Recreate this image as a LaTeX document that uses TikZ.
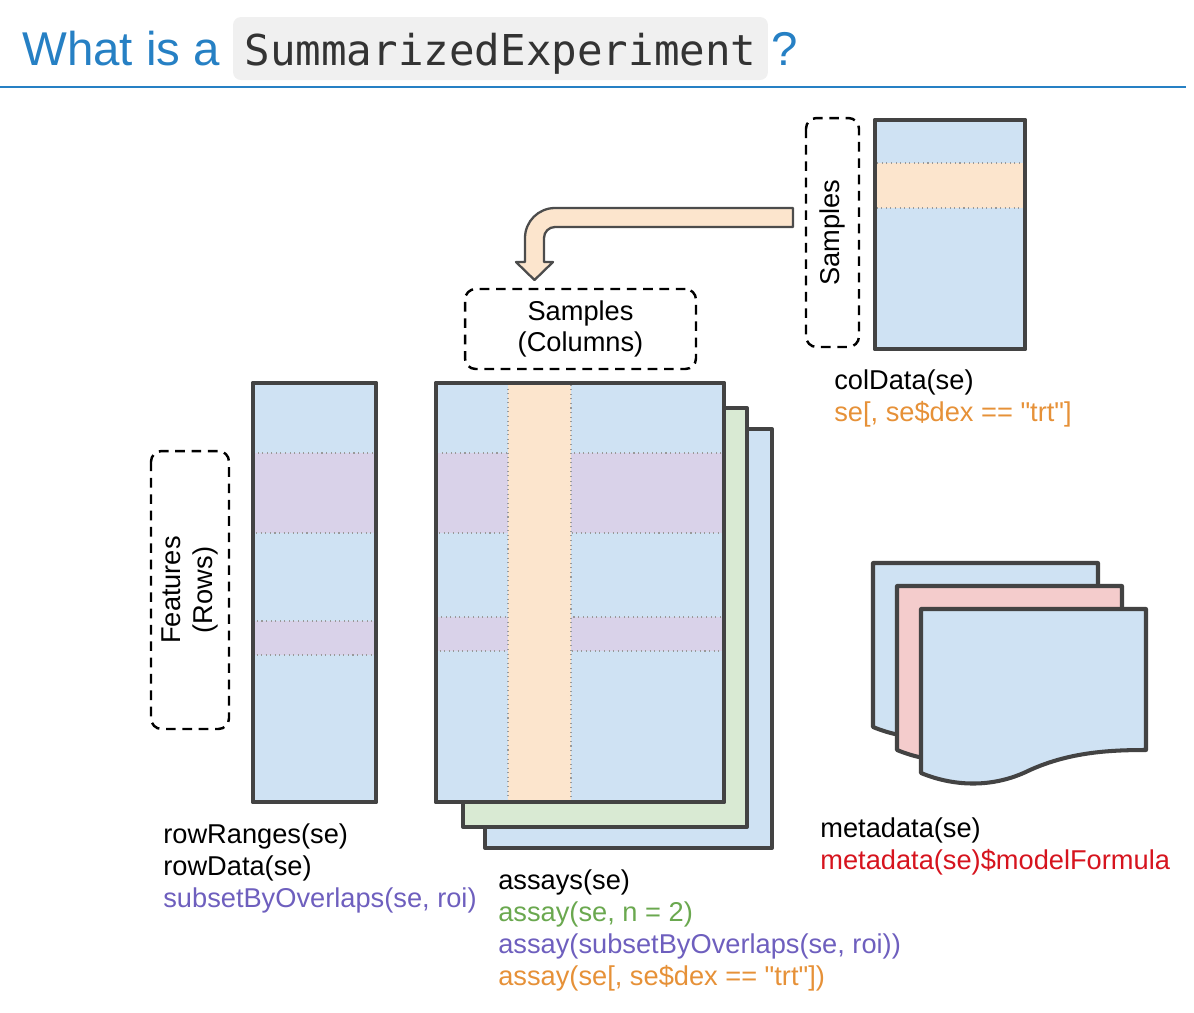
\documentclass[tikz,border=0pt]{standalone}
\usepackage{fontspec}
\setmainfont{Liberation Sans}
\newfontfamily\codefont{DejaVu Sans Mono}
\definecolor{cellblue}{RGB}{207,226,243}
\definecolor{cellpeach}{RGB}{252,229,205}
\definecolor{celllav}{RGB}{217,210,233}
\definecolor{cellgreen}{RGB}{217,234,211}
\definecolor{cellpink}{RGB}{244,204,204}
\definecolor{edgegray}{RGB}{67,67,67}
\definecolor{titleblue}{RGB}{38,128,196}
\definecolor{codebg}{RGB}{240,240,240}
\definecolor{txtorange}{RGB}{230,145,56}
\definecolor{txtpurple}{RGB}{110,95,190}
\definecolor{txtgreen}{RGB}{106,168,79}
\definecolor{txtred}{RGB}{214,20,30}
\begin{document}
\begin{tikzpicture}[x=0.02cm, y=-0.02cm, line join=round,
	cell/.style={draw=edgegray, line width=2.3pt},
	band/.style={draw=gray!80, line width=0.6pt, dotted},
	dashbox/.style={draw, line width=1.4pt, dash pattern=on 5.5pt off 3.8pt, rounded corners=6pt, inner sep=0pt, align=center},
	lbl/.style={anchor=base west, align=left, inner sep=0pt, font=\fontsize{15.5}{18.1}\selectfont}]
	\useasboundingbox (0,0) rectangle (1194,1012);
	% title
	\node[anchor=base west, inner sep=0pt, text=titleblue, font=\fontsize{27}{30}\selectfont] (what) at (22,65) {What is a};
	\node[fill=codebg, rounded corners=4.5pt, minimum width=10.7cm, minimum height=1.26cm, inner sep=0pt] (codebox) at (500.5,48.5) {};
	\node[anchor=base, inner sep=0pt, text=black!80, font=\codefont\fontsize{24.2}{28}\selectfont] (code) at (500.5,65) {SummarizedExperiment};
	\node[anchor=base west, inner sep=0pt, text=titleblue, font=\fontsize{27}{30}\selectfont] (qmark) at (771,65) {?};
	\draw[titleblue, line width=1.2pt] (0,87) -- (1186,87);
	% colData
	\draw[cell, fill=cellblue] (875,120) rectangle (1025,349);
	\draw[band, fill=cellpeach] (876,163) rectangle (1024,208);
	\draw[cell] (875,120) rectangle (1025,349);
	\node[dashbox, rotate=90, minimum width=4.58cm, minimum height=1.06cm, font=\fontsize{15.5}{18.1}\selectfont] (colsamp) at (832.5,232.5) {Samples};
	% bent arrow
	\draw[gray!60!black, line width=1.3pt, fill=cellpeach] (793,208) -- (555,208)
		.. controls (538.4,208) and (525,221.4) .. (525,238) -- (525,262) -- (516,262)
		-- (534.5,280) -- (553,262) -- (544,262) -- (544,238)
		.. controls (544,231.9) and (548.9,227) .. (555,227) -- (793,227) -- cycle;
	\node[dashbox, minimum width=4.62cm, minimum height=1.6cm, font=\fontsize{15.5}{18.1}\selectfont] (samp) at (580.5,329) {Samples\\(Columns)};
	% rowRanges
	\draw[cell, fill=cellblue] (253,383) rectangle (376,802);
	\draw[band, fill=celllav] (254,453) rectangle (375,533);
	\draw[band, fill=celllav] (254,621) rectangle (375,655);
	\draw[cell] (253,383) rectangle (376,802);
	\node[dashbox, rotate=90, minimum width=5.56cm, minimum height=1.56cm, font=\fontsize{15.5}{18.1}\selectfont] (feat) at (190,590) {Features\\(Rows)};
	% assays
	\draw[cell, fill=cellblue] (485,429) rectangle (772,848);
	\draw[cell, fill=cellgreen] (463,408) rectangle (747,827);
	\draw[cell, fill=cellblue] (436,383) rectangle (724,802);
	\draw[band, fill=celllav] (437,453) rectangle (723,533);
	\draw[band, fill=celllav] (437,617) rectangle (723,651);
	\draw[band, fill=cellpeach] (508,384) rectangle (571,801);
	\draw[cell] (436,383) rectangle (724,802);
	% metadata
	\foreach \dx/\dy/\col in {-48/-46/cellblue, -24/-23/cellpink, 0/0/cellblue}
		\draw[cell, fill=\col, shift={(\dx,\dy)}] (921,609) -- (1146,609) -- (1146,750)
			.. controls (1110,750) and (1070,752) .. (1030,770)
			.. controls (990,790) and (950,785) .. (921,773) -- cycle;
	% labels (base = last line)
	\node[lbl] (coltxt) at (834,421) {colData(se)\\\textcolor{txtorange}{se[, se\$dex == \textquotedbl trt\textquotedbl]}};
	\node[lbl] (rowtxt) at (163,907) {rowRanges(se)\\rowData(se)\\\textcolor{txtpurple}{subsetByOverlaps(se, roi)}};
	\node[lbl] (assaytxt) at (498,985) {assays(se)\\\textcolor{txtgreen}{assay(se, n = 2)}\\\textcolor{txtpurple}{assay(subsetByOverlaps(se, roi))}\\\textcolor{txtorange}{assay(se[, se\$dex == \textquotedbl trt\textquotedbl])}};
	\node[lbl] (metatxt) at (820,869) {metadata(se)\\\textcolor{txtred}{metadata(se)\$modelFormula}};
\end{tikzpicture}
\end{document}
